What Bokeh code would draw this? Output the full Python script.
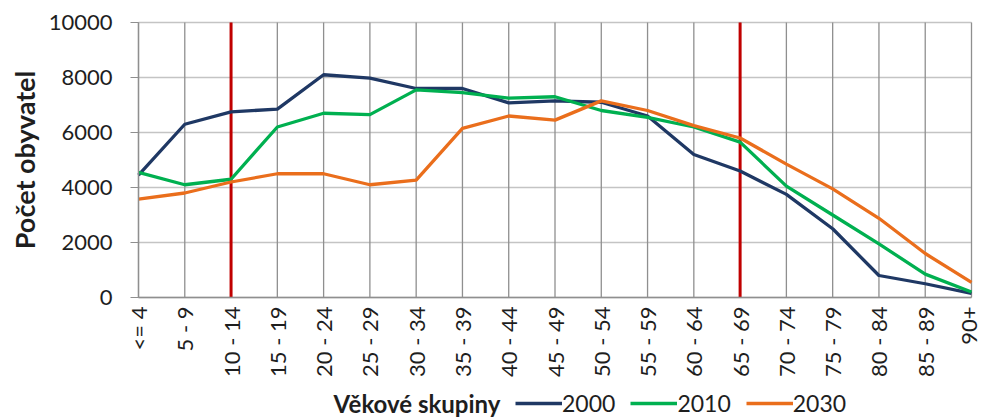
import math
from bokeh.plotting import figure
from bokeh.models import (ColumnDataSource, FixedTicker, Range1d, Legend, LegendItem,
                          Label)
from bokeh.embed import file_html
from bokeh.resources import INLINE

categories = ["<= 4", "5 - 9", "10 - 14", "15 - 19", "20 - 24", "25 - 29", "30 - 34",
              "35 - 39", "40 - 44", "45 - 49", "50 - 54", "55 - 59", "60 - 64",
              "65 - 69", "70 - 74", "75 - 79", "80 - 84", "85 - 89", "90+"]
y2000 = [4450, 6300, 6750, 6850, 8100, 7980, 7600, 7600, 7080, 7150, 7100, 6600,
         5200, 4600, 3750, 2500, 800, 500, 150]
y2010 = [4550, 4100, 4300, 6200, 6700, 6650, 7550, 7450, 7250, 7300, 6800, 6550,
         6200, 5650, 4050, 3000, 1950, 850, 200]
y2030 = [3580, 3800, 4200, 4500, 4500, 4100, 4270, 6150, 6600, 6450, 7150, 6800,
         6250, 5800, 4850, 3950, 2880, 1600, 550]
series_names = ["2000", "2010", "2030"]
series_colors = ["#1f3864", "#00b050", "#ea6e1c"]
marked = ["10 - 14", "65 - 69"]
y_ticks = [0, 2000, 4000, 6000, 8000, 10000]
x_title = "Věkové skupiny"
y_title = "Počet obyvatel"

FONT = "Lato"
TXT = "#1e1e1e"
GRID_V = "#8f8f8f"
GRID_H = "#c4c4c4"

# layout (pixels): the whole canvas is the frame, plot box drawn inside it
W, H = 981, 419
PL, PR, PT, PB = 138, 971, 22, 297   # plot box edges in pixels

x_idx = list(range(len(categories)))
x_lo, x_hi = x_idx[0], x_idx[-1]
y_lo, y_hi = y_ticks[0], y_ticks[-1]
sx = (x_hi - x_lo) / (PR - PL)
sy = (y_hi - y_lo) / (PB - PT)

p = figure(width=W, height=H, output_backend="svg", toolbar_location=None,
           x_range=Range1d(x_lo - PL * sx, x_hi + (W - PR) * sx),
           y_range=Range1d(y_lo - (H - PB) * sy, y_hi + PT * sy),
           min_border_left=0, min_border_right=0, min_border_top=0,
           min_border_bottom=0)
p.outline_line_color = None
p.background_fill_color = "white"
p.border_fill_color = "white"
p.xgrid.visible = False
p.ygrid.visible = False

# grid lines inside the plot box
n = len(x_idx)
p.segment(x0=[x_lo] * len(y_ticks), y0=y_ticks, x1=[x_hi] * len(y_ticks), y1=y_ticks,
          line_color=GRID_H, line_width=1.3)
p.segment(x0=x_idx, y0=[y_lo] * n, x1=x_idx, y1=[y_hi] * n,
          line_color=GRID_V, line_width=1.3)

# marked age groups (red vertical lines)
mx = [categories.index(m) for m in marked]
p.segment(x0=mx, y0=[y_lo] * len(mx), x1=mx, y1=[y_hi] * len(mx),
          line_color="#c00000", line_width=3)

# x axis drawn at value 0
xa = p.xaxis[0]
xa.fixed_location = y_lo
xa.bounds = (x_lo, x_hi)
xa.ticker = FixedTicker(ticks=x_idx)
xa.major_label_overrides = {i: c for i, c in enumerate(categories)}
xa.major_label_orientation = math.pi / 2
xa.major_tick_out = 0
xa.major_tick_in = 0
xa.minor_tick_out = 0
xa.minor_tick_in = 0
xa.major_label_standoff = 9
xa.axis_line_color = GRID_V
xa.axis_line_width = 1.6
xa.major_label_text_font = FONT
xa.major_label_text_font_size = "22px"
xa.major_label_text_color = TXT

# y axis drawn at the first category
ya = p.yaxis[0]
ya.fixed_location = x_lo
ya.bounds = (y_lo, y_hi)
ya.ticker = FixedTicker(ticks=y_ticks)
ya.major_tick_out = 8
ya.major_tick_in = 0
ya.minor_tick_out = 0
ya.minor_tick_in = 0
ya.major_tick_line_color = GRID_V
ya.axis_line_color = GRID_V
ya.axis_line_width = 1.3
ya.major_label_standoff = 18
ya.major_label_text_font = FONT
ya.major_label_text_font_size = "22px"
ya.major_label_text_color = TXT

# lines
items = []
for name, ys, col in zip(series_names, [y2000, y2010, y2030], series_colors):
    src = ColumnDataSource(dict(x=x_idx, y=ys))
    r = p.line("x", "y", source=src, line_color=col, line_width=3.3,
               line_join="round")
    items.append(LegendItem(label=name, renderers=[r]))

legend = Legend(items=items, orientation="horizontal", location=(515, 2),
                label_text_font=FONT, label_text_font_size="23px",
                label_text_color=TXT, label_standoff=0,
                glyph_width=47, glyph_height=20, spacing=15,
                padding=0, margin=0, border_line_color=None,
                background_fill_alpha=0)
p.add_layout(legend, "center")

# axis titles
p.add_layout(Label(x=333, y=16, x_units="screen", y_units="screen",
                   text=x_title, text_font=FONT, text_font_style="bold",
                   text_font_size="24px", text_color=TXT,
                   text_baseline="middle", text_align="left"))
p.add_layout(Label(x=24, y=H - (PT + PB) / 2, x_units="screen", y_units="screen",
                   angle=math.pi / 2,
                   text=y_title, text_font=FONT, text_font_style="bold",
                   text_font_size="27px", text_color=TXT,
                   text_baseline="middle", text_align="center"))

open("out.html", "w").write(file_html(p, INLINE))
